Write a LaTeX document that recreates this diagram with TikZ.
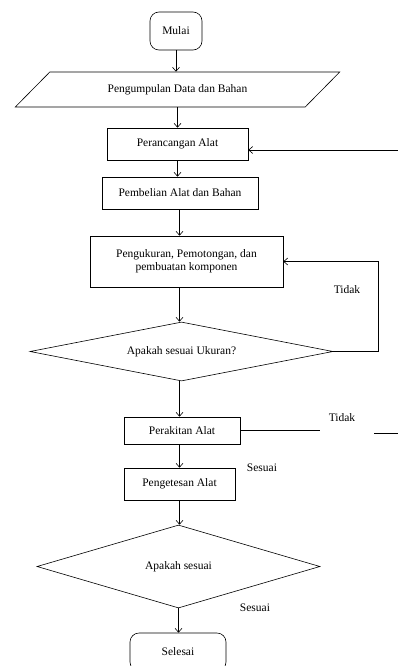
\documentclass[tikz,border=0pt]{standalone}
\usepackage{fontspec}
\setmainfont{Liberation Serif}
\usetikzlibrary{shapes.geometric,arrows.meta}
\begin{document}
\begin{tikzpicture}
[x=1pt,y=-1pt,font=\fontsize{11.5}{13}\selectfont,line width=0.6pt,
 >={Straight Barb[length=4pt,width=7pt]},
 proses/.style={shape=rectangle,draw,inner sep=0pt},
 ujung/.style={shape=rectangle,draw,rounded corners=9pt,inner sep=0pt},
 cabang/.style={shape=diamond,draw,inner sep=0pt},
 masukan/.style={shape=trapezium,draw,trapezium left angle=29,trapezium right angle=151,
   trapezium stretches=true,inner sep=0pt}]
\useasboundingbox (0,0) rectangle (398,666);
\path (176,31) node (mulai) [ujung,minimum width=52,minimum height=38] {Mulai}
(177.5,89.5) node (kumpul) [masukan,minimum width=325,minimum height=35] {Pengumpulan Data dan Bahan}
(177.5,144) node (rancang) [proses,minimum width=141,minimum height=32] {Perancangan Alat}
(180,193) node (beli) [proses,minimum width=156,minimum height=32] {Pembelian Alat dan Bahan}
(186.5,261.5) node (ukur) [proses,minimum width=193,minimum height=51,align=center]
  {Pengukuran, Pemotongan, dan\\pembuatan komponen}
(181.5,351.5) node (cek1) [cabang,minimum width=303,minimum height=59,shape aspect=5.1] {Apakah sesuai Ukuran?}
(182,430.5) node (rakit) [proses,minimum width=116,minimum height=27] {Perakitan Alat}
(179.5,484) node (tes) [proses,minimum width=111,minimum height=32] {Pengetesan Alat}
(178.5,566.5) node (cek2) [cabang,minimum width=283,minimum height=83,shape aspect=3.4] {Apakah sesuai}
(178,652) node (selesai) [ujung,minimum width=96,minimum height=38] {Selesai};
\path (347,290) node (tidak1) {Tidak}
(342,418) node (tidak2) {Tidak}
(262,468) node (sesuai1) {Sesuai}
(255,608) node (sesuai2) {Sesuai};
\coordinate (tengah) at (179.5,0);
\coordinate (balik) at (398,150);
\coordinate (loop) at (378,0);
\coordinate (putus) at (320,433);
\coordinate (lanjut) at (374,433);
\coordinate (tepi) at (398,433);
\draw [->] (mulai) -- (mulai |- kumpul.north);
\draw [->] (kumpul.south) -- (kumpul.south |- rancang.north);
\draw [->] (rancang) -- (rancang |- beli.north);
\draw [->] (tengah |- beli.south) -- (tengah |- ukur.north);
\draw [->] (tengah |- ukur.south) -- (tengah |- cek1.north);
\draw [->] (tengah |- cek1.south) -- (tengah |- rakit.north);
\draw [->] (tengah |- rakit.south) -- (tengah |- tes.north);
\draw [->] (tes) -- (tes |- cek2.north);
\draw [->] (cek2) -- (cek2 |- selesai.north);
\draw [->] (balik) -- (rancang.east |- balik);
\draw [->] (cek1.east) -- (cek1.east -| loop) |- (ukur.east);
\draw [line width=1pt] (rakit.east) -- (rakit.east -| putus);
\draw [line width=1pt] (lanjut) -- (tepi);
\end{tikzpicture}
\end{document}
